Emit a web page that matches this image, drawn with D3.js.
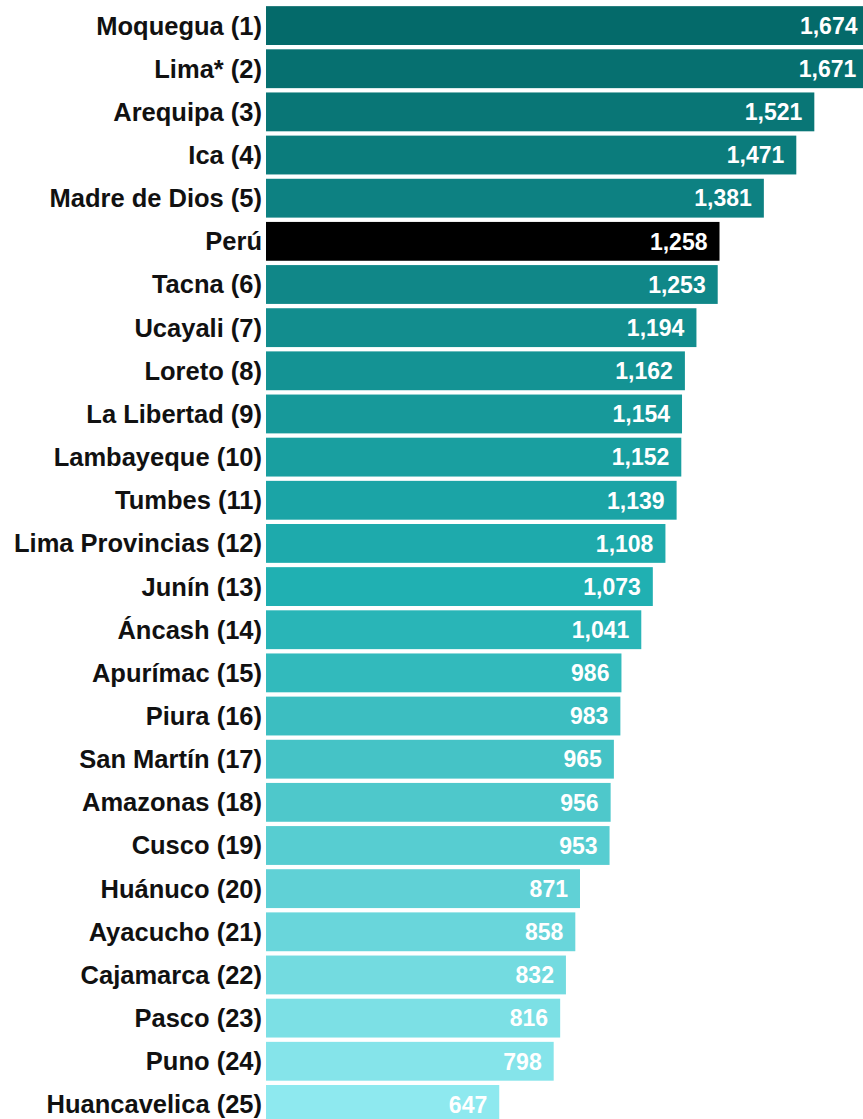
<!DOCTYPE html>
<html>
<head>
<meta charset="utf-8">
<script src="https://cdn.jsdelivr.net/npm/d3@7"></script>
<style>
  html, body { margin: 0; padding: 0; background: #ffffff; }
  svg { display: block; }
  text { font-family: "Liberation Sans", Arial, Helvetica, sans-serif; font-weight: bold; }
</style>
</head>
<body>
<svg id="chart" width="863" height="1119"></svg>
<script>
const regions = ["Moquegua (1)", "Lima* (2)", "Arequipa (3)", "Ica (4)", "Madre de Dios (5)", "Perú",
  "Tacna (6)", "Ucayali (7)", "Loreto (8)", "La Libertad (9)", "Lambayeque (10)", "Tumbes (11)",
  "Lima Provincias (12)", "Junín (13)", "Áncash (14)", "Apurímac (15)", "Piura (16)", "San Martín (17)",
  "Amazonas (18)", "Cusco (19)", "Huánuco (20)", "Ayacucho (21)", "Cajamarca (22)", "Pasco (23)",
  "Puno (24)", "Huancavelica (25)"];
const values = [1674, 1671, 1521, 1471, 1381, 1258, 1253, 1194, 1162, 1154, 1152, 1139, 1108, 1073,
  1041, 986, 983, 965, 956, 953, 871, 858, 832, 816, 798, 647];
const highlight = "Perú";

const svg = d3.select("#chart");
const x0 = 266;
const x = d3.scaleLinear().domain([0, 1674]).range([x0, x0 + 1674 * 0.3605]);
const y = d3.scaleBand().domain(regions).range([4, 1126]).paddingInner(0.1).paddingOuter(0.05);

const ranked = regions.filter(r => r !== highlight);
const colorScale = d3.scaleLinear()
  .domain([0, 12, 24])
  .range(["#046a6a", "#20b0b2", "#8ee9ef"])
  .interpolate(d3.interpolateRgb);
const colorOf = r => r === highlight ? "#000000" : colorScale(ranked.indexOf(r));

const data = regions.map((r, i) => ({ r, v: values[i] }));

svg.selectAll("rect.bar").data(data).join("rect")
  .attr("class", "bar")
  .attr("x", x(0))
  .attr("y", d => y(d.r))
  .attr("width", d => x(d.v) - x(0))
  .attr("height", y.bandwidth())
  .attr("fill", d => colorOf(d.r));

svg.selectAll("text.lab").data(data).join("text")
  .attr("class", "lab")
  .attr("x", x0 - 4)
  .attr("y", d => y(d.r) + y.bandwidth() / 2)
  .attr("dy", "0.35em")
  .attr("text-anchor", "end")
  .attr("font-size", 25.5)
  .attr("fill", "#111111")
  .text(d => d.r);

const fmt = d3.format(",");
svg.selectAll("text.val").data(data).join("text")
  .attr("class", "val")
  .attr("x", d => x(d.v) - 12)
  .attr("y", d => y(d.r) + y.bandwidth() / 2)
  .attr("dy", "0.36em")
  .attr("text-anchor", "end")
  .attr("font-size", 23)
  .attr("fill", "#ffffff")
  .text(d => fmt(d.v));
</script>
</body>
</html>
